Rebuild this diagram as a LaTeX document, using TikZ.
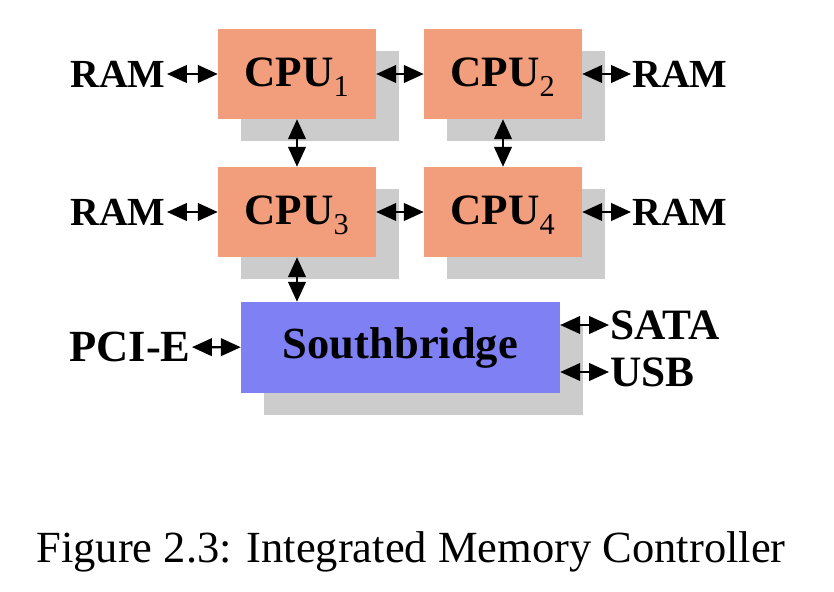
\documentclass[tikz,border=0pt]{standalone}
\usepackage{fontspec}
\setmainfont{Liberation Serif}
\usetikzlibrary{arrows.meta, shadows}

\definecolor{cpuorange}{RGB}{242,158,124}
\definecolor{bridgeblue}{RGB}{128,128,245}
\definecolor{shadowgray}{RGB}{204,204,204}

\newcommand{\cpuname}[1]{CPU\textsubscript{\mdseries #1}}

\tikzset{
  box/.style={inner sep=0pt, general shadow={fill=shadowgray, shadow xshift=0.69cm, shadow yshift=-0.66cm}},
  cpu/.style={box, fill=cpuorange, minimum width=4.74cm, minimum height=2.7cm, text depth=3pt, font=\fontsize{37}{42}\selectfont\bfseries},
  bridge/.style={box, fill=bridgeblue, minimum width=9.57cm, minimum height=2.73cm, font=\fontsize{38}{44}\selectfont\bfseries},
  port/.style={inner sep=1pt, font=\fontsize{34}{40}\selectfont\bfseries},
  link/.style={line width=1.9pt, {Triangle[length=17pt 0, width=15pt 0]}-{Triangle[length=17pt 0, width=15pt 0]}},
}

\begin{document}
\begin{tikzpicture}[x=0.03cm, y=-0.03cm]
\useasboundingbox (0,0) rectangle (834,592);
% processors and southbridge
\node[cpu] (cpu1) at (297,74) {\cpuname{1}};
\node[cpu] (cpu2) at (503,74) {\cpuname{2}};
\node[cpu] (cpu3) at (297,212) {\cpuname{3}};
\node[cpu] (cpu4) at (503,212) {\cpuname{4}};
\node[bridge] (sb) at (400.5,347.5) {Southbridge};
% memory and i/o
\node[port, anchor=east] (ram1) at (167,74) {RAM};
\node[port, anchor=east] (ram3) at (167,212) {RAM};
\node[port, anchor=west] (ram2) at (631,74) {RAM};
\node[port, anchor=west] (ram4) at (631,212) {RAM};
\node[port, anchor=east, font=\fontsize{38}{44}\selectfont\bfseries] (pcie) at (192,347) {PCI-E};
\node[port, anchor=west, font=\fontsize{37}{42}\selectfont\bfseries] (sata) at (609,325) {SATA};
\node[port, anchor=west, font=\fontsize{37}{42}\selectfont\bfseries] (usb) at (609,372) {USB};
% links
\draw[link] (ram1) -- (cpu1);
\draw[link] (cpu1) -- (cpu2);
\draw[link] (cpu2) -- (ram2);
\draw[link] (ram3) -- (cpu3);
\draw[link] (cpu3) -- (cpu4);
\draw[link] (cpu4) -- (ram4);
\draw[link] (cpu1) -- (cpu3);
\draw[link] (cpu2) -- (cpu4);
\draw[link] (cpu3.south) -- (cpu3.south |- sb.north);
\draw[link] (pcie) -- (sb);
\draw[link] (sb.east |- sata) -- (sata);
\draw[link] (sb.east |- usb) -- (usb);
% caption
\node[anchor=base, font=\fontsize{38}{44}\selectfont] (caption) at (411,562) {Figure 2.3: Integrated Memory Controller};
\end{tikzpicture}
\end{document}
